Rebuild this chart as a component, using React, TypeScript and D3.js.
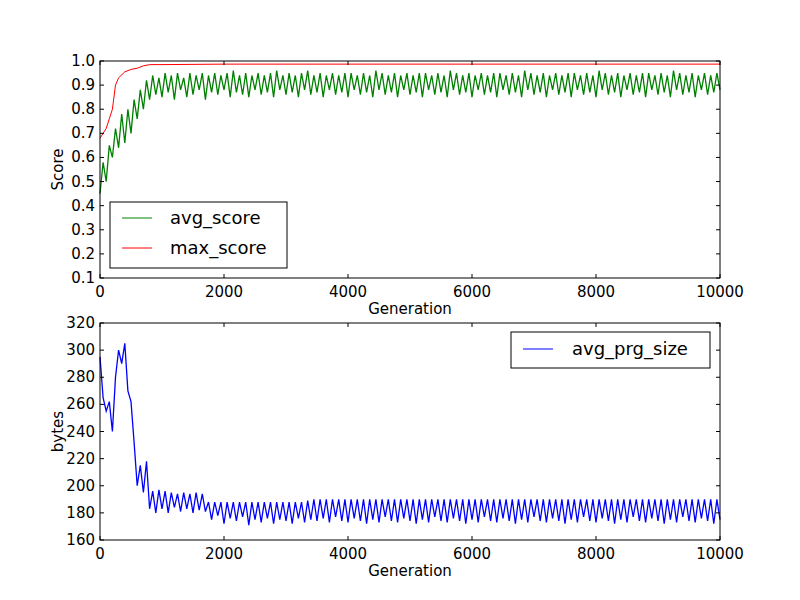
import * as d3 from "d3"

// sampled every 50 generations
const AVG_SCORE = [
  0.45, 0.58, 0.5, 0.65, 0.6, 0.72, 0.64, 0.78, 0.66, 0.8, 0.7, 0.84, 0.76, 0.88, 0.8, 0.92, 0.84, 0.94, 0.86, 0.93,
  0.85, 0.95, 0.87, 0.94, 0.84, 0.95, 0.88, 0.93, 0.85, 0.95, 0.86, 0.94, 0.88, 0.95, 0.84, 0.94, 0.87, 0.95, 0.86, 0.94,
  0.88, 0.95, 0.85, 0.96, 0.87, 0.94, 0.86, 0.95, 0.85, 0.94, 0.88, 0.95, 0.86, 0.94, 0.87, 0.95, 0.85, 0.96, 0.88, 0.94,
  0.86, 0.95, 0.87, 0.94, 0.85, 0.95, 0.88, 0.96, 0.86, 0.94, 0.87, 0.95, 0.85, 0.94, 0.88, 0.95, 0.86, 0.94, 0.87, 0.95,
  0.85, 0.95, 0.88, 0.94, 0.86, 0.95, 0.87, 0.94, 0.85, 0.96, 0.88, 0.95, 0.86, 0.94, 0.87, 0.95, 0.85, 0.94, 0.88, 0.95,
  0.86, 0.94, 0.87, 0.95, 0.85, 0.95, 0.88, 0.94, 0.86, 0.95, 0.87, 0.94, 0.85, 0.96, 0.88, 0.95, 0.86, 0.94, 0.87, 0.95,
  0.85, 0.94, 0.88, 0.95, 0.86, 0.94, 0.87, 0.95, 0.85, 0.95, 0.88, 0.94, 0.86, 0.95, 0.87, 0.94, 0.85, 0.96, 0.88, 0.95,
  0.86, 0.94, 0.87, 0.95, 0.85, 0.94, 0.88, 0.95, 0.86, 0.94, 0.87, 0.95, 0.85, 0.95, 0.88, 0.94, 0.86, 0.95, 0.87, 0.94,
  0.85, 0.96, 0.88, 0.95, 0.86, 0.94, 0.87, 0.95, 0.85, 0.94, 0.88, 0.95, 0.86, 0.94, 0.87, 0.95, 0.85, 0.95, 0.88, 0.94,
  0.86, 0.95, 0.87, 0.94, 0.85, 0.96, 0.88, 0.95, 0.86, 0.94, 0.87, 0.95, 0.85, 0.94, 0.88, 0.95, 0.86, 0.94, 0.87, 0.95, 0.88,
]
const MAX_GEN = [0, 100, 150, 200, 250, 300, 400, 500, 600, 700, 800, 1000, 2000, 10000]
const MAX_SCORE = [0.68, 0.72, 0.76, 0.8, 0.9, 0.93, 0.955, 0.965, 0.97, 0.98, 0.985, 0.985, 0.987, 0.987]
const PRG_SIZE = [
  295, 265, 255, 262, 240, 280, 300, 290, 305, 270, 262, 232, 200, 215, 195, 218, 183, 196, 180, 197,
  183, 196, 180, 195, 184, 194, 181, 195, 183, 194, 180, 195, 182, 194, 181, 188, 175, 188, 178, 188,
  172, 188, 176, 188, 174, 188, 177, 188, 171, 188, 175, 188, 173, 188, 176, 188, 172, 188, 175, 188,
  174, 188, 172, 188, 176, 188, 173, 189, 175, 190, 174, 190, 176, 190, 173, 190, 177, 190, 174, 190,
  173, 190, 176, 190, 174, 190, 172, 190, 175, 190, 173, 190, 177, 190, 174, 190, 173, 190, 176, 190,
  174, 190, 172, 190, 175, 190, 173, 190, 177, 190, 174, 190, 173, 190, 176, 190, 174, 190, 172, 190,
  175, 190, 173, 190, 177, 190, 174, 190, 173, 190, 176, 190, 174, 190, 172, 190, 175, 190, 173, 190,
  177, 190, 174, 190, 173, 190, 176, 190, 174, 190, 172, 190, 175, 190, 173, 190, 177, 190, 174, 190,
  173, 190, 176, 190, 174, 190, 172, 190, 175, 190, 173, 190, 177, 190, 174, 190, 173, 190, 176, 190,
  174, 190, 172, 190, 175, 190, 173, 190, 177, 190, 174, 190, 173, 190, 176, 190, 174, 190, 172, 190, 175,
]
const STEP = 50
const X_TICKS = [0, 2000, 4000, 6000, 8000, 10000]
const SCORE_TICKS = [0.1, 0.2, 0.3, 0.4, 0.5, 0.6, 0.7, 0.8, 0.9, 1.0]
const BYTE_TICKS = [160, 180, 200, 220, 240, 260, 280, 300, 320]

const FONT = "DejaVu Sans"
const L = 100, R = 720

function Axes({ top, bottom, yDomain, yTicks, yFmt, ylabel, children }: any) {
  const x = d3.scaleLinear().domain([0, 10000]).range([L, R])
  const y = d3.scaleLinear().domain(yDomain).range([bottom, top])
  return (
    <g>
      {children(x, y)}
      <rect x={L} y={top} width={R - L} height={bottom - top} fill="none" stroke="#000" />
      {X_TICKS.map((t) => (
        <g key={t}>
          <line x1={x(t)} x2={x(t)} y1={bottom} y2={bottom - 4} stroke="#000" />
          <line x1={x(t)} x2={x(t)} y1={top} y2={top + 4} stroke="#000" />
          <text x={x(t)} y={bottom + 19} textAnchor="middle" fontSize={15}>{t}</text>
        </g>
      ))}
      {yTicks.map((t: number) => (
        <g key={t}>
          <line x1={L} x2={L + 4} y1={y(t)} y2={y(t)} stroke="#000" />
          <line x1={R} x2={R - 4} y1={y(t)} y2={y(t)} stroke="#000" />
          <text x={L - 5} y={y(t) + 5} textAnchor="end" fontSize={15}>{yFmt(t)}</text>
        </g>
      ))}
      <text x={410} y={bottom + 36} textAnchor="middle" fontSize={15}>Generation</text>
      <text transform={`translate(${L - 37},${(top + bottom) / 2}) rotate(-90)`} textAnchor="middle" fontSize={15}>{ylabel}</text>
    </g>
  )
}

export default function App() {
  return (
    <svg width={800} height={600} style={{ display: "block", margin: -8, fontFamily: FONT }}>
      <rect width={800} height={600} fill="#fff" />
      <Axes top={61} bottom={278} yDomain={[0.1, 1.0]} yTicks={SCORE_TICKS} yFmt={(t: number) => t.toFixed(1)} ylabel="Score">
        {(x: any, y: any) => {
          const line = d3.line<number>().x((_, i) => x(i * STEP)).y((v) => y(v))
          const mline = d3.line<number>().x((_, i) => x(MAX_GEN[i])).y((v) => y(v))
          return (
            <g>
              <path d={line(AVG_SCORE)!} fill="none" stroke="green" strokeWidth={1.3} />
              <path d={mline(MAX_SCORE)!} fill="none" stroke="red" strokeWidth={1} />
              <rect x={110} y={202} width={177} height={66} fill="#fff" stroke="#000" />
              <line x1={122} x2={152} y1={218} y2={218} stroke="green" />
              <text x={170} y={224} fontSize={18}>avg_score</text>
              <line x1={122} x2={152} y1={248} y2={248} stroke="red" />
              <text x={170} y={254} fontSize={18}>max_score</text>
            </g>
          )
        }}
      </Axes>
      <Axes top={323} bottom={540} yDomain={[160, 320]} yTicks={BYTE_TICKS} yFmt={(t: number) => String(t)} ylabel="bytes">
        {(x: any, y: any) => {
          const line = d3.line<number>().x((_, i) => x(i * STEP)).y((v) => y(v))
          return (
            <g>
              <path d={line(PRG_SIZE)!} fill="none" stroke="blue" strokeWidth={1.3} />
              <rect x={511} y={332} width={199} height={36} fill="#fff" stroke="#000" />
              <line x1={523} x2={553} y1={349} y2={349} stroke="blue" />
              <text x={572} y={355} fontSize={18}>avg_prg_size</text>
            </g>
          )
        }}
      </Axes>
    </svg>
  )
}
